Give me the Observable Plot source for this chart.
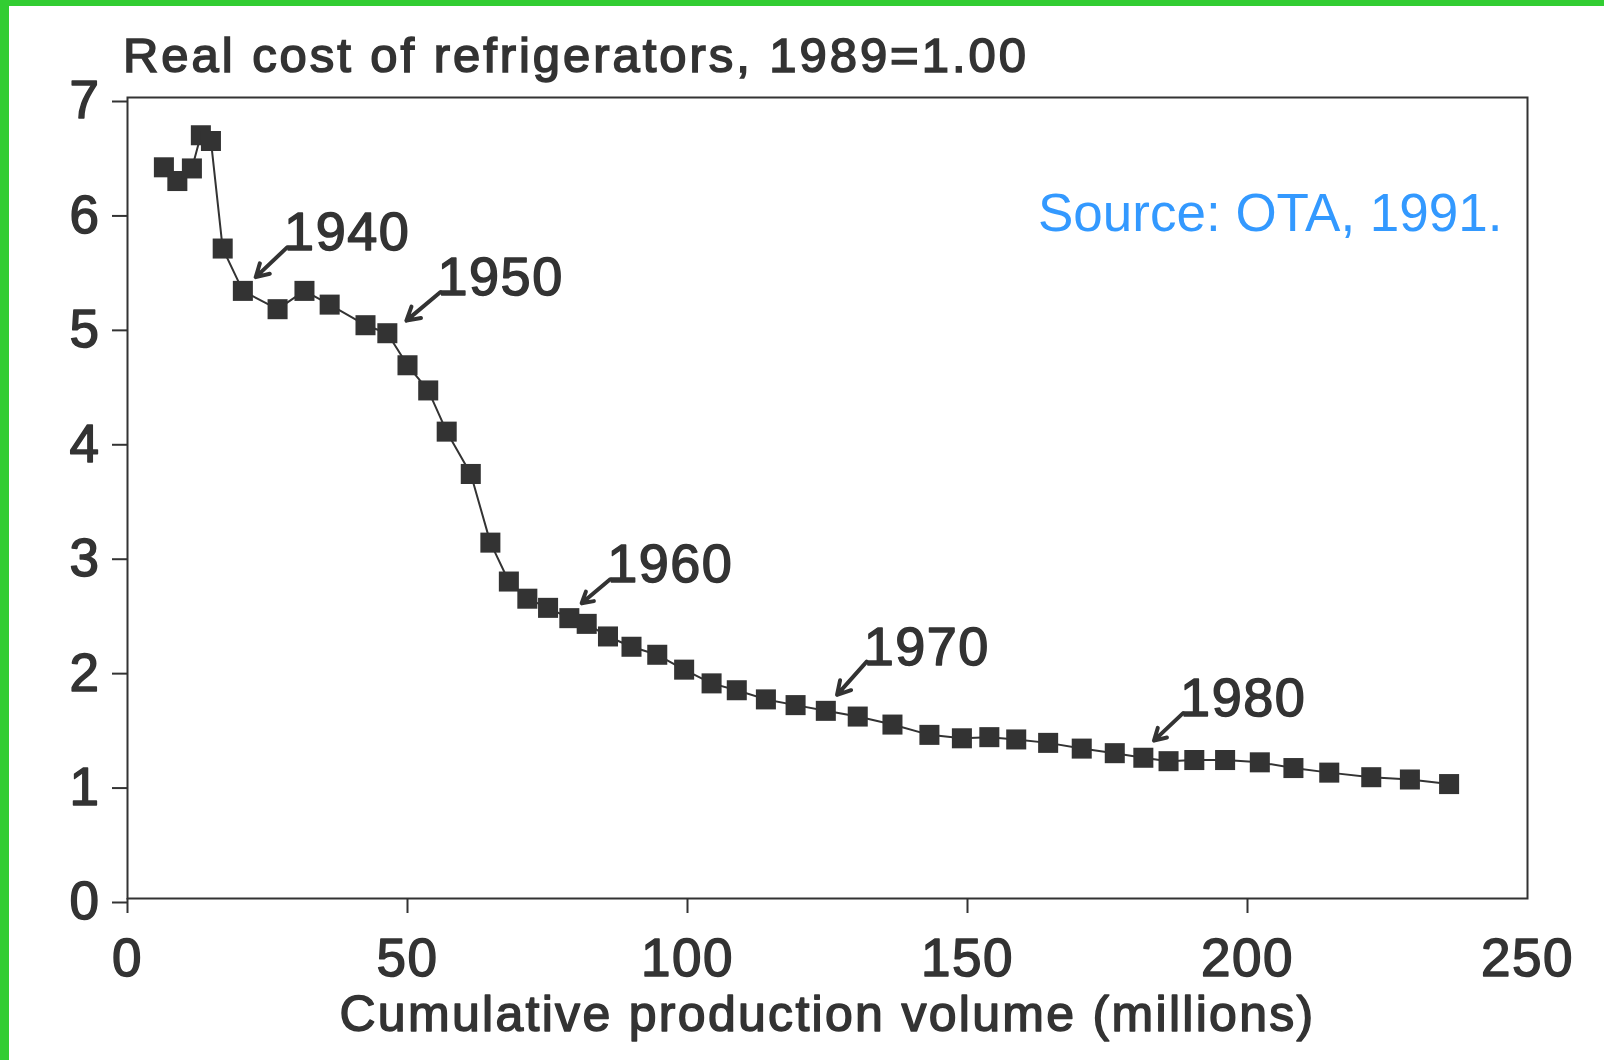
<!DOCTYPE html>
<html>
<head>
<meta charset="utf-8">
<script src="https://cdn.jsdelivr.net/npm/d3@7"></script>
<script src="https://cdn.jsdelivr.net/npm/@observablehq/plot@0.6"></script>
<style>
  html, body { margin: 0; padding: 0; background: #ffffff; }
  body { width: 1604px; height: 1060px; position: relative; overflow: hidden; }
  .bar-top { position: absolute; left: 0; top: 0; width: 1604px; height: 6px; background: #32cd32; z-index: 5; }
  .bar-left { position: absolute; left: 0; top: 0; width: 9px; height: 1060px; background: #32cd32; z-index: 5; }
  #title {
    position: absolute; left: 123px; top: 31px;
    font-family: "Liberation Sans", Arial, sans-serif; font-size: 49px; line-height: 49px;
    letter-spacing: 2.95px; color: #333333; -webkit-text-stroke: 1.6px #333333; white-space: nowrap;
  }
  #chart { position: absolute; left: 0; top: 84px; }
  #chart svg { font-family: "Liberation Sans", Arial, sans-serif; overflow: visible; }
</style>
</head>
<body>
<div class="bar-top"></div>
<div class="bar-left"></div>
<div id="title">Real cost of refrigerators, 1989=1.00</div>
<div id="chart"></div>
<script>
// Cumulative production volume (millions) and real cost (1989 = 1.00)
const volume = [6.5, 8.9, 11.5, 13.1, 14.9, 17.0, 20.6, 26.8, 31.6, 36.1, 42.5, 46.4, 50.0, 53.7, 57.0, 61.3, 64.8, 68.1, 71.4, 75.1,
                78.9, 82.0, 85.8, 90.0, 94.6, 99.4, 104.3, 108.8, 114.0, 119.3, 124.7, 130.4, 136.6, 143.2, 149.0, 153.9, 158.7, 164.4, 170.4, 176.3,
                181.4, 185.9, 190.5, 196.0, 202.2, 208.2, 214.6, 222.1, 229.0, 236.0];
const cost = [6.39, 6.27, 6.38, 6.67, 6.62, 5.68, 5.31, 5.15, 5.31, 5.19, 5.01, 4.94, 4.66, 4.44, 4.08, 3.71, 3.11, 2.77, 2.62, 2.54,
              2.45, 2.40, 2.29, 2.20, 2.13, 2.00, 1.88, 1.82, 1.74, 1.69, 1.64, 1.59, 1.52, 1.43, 1.40, 1.41, 1.39, 1.36, 1.31, 1.27,
              1.23, 1.20, 1.21, 1.21, 1.19, 1.14, 1.10, 1.06, 1.04, 1.00];

// Year annotations (arrow tail -> tip, in data units)
const yearLabels = ["1940", "1950", "1960", "1970", "1980"];
const arrowTailX = [28.5, 55.9, 86.2, 132.0, 188.5];
const arrowTailY = [5.69, 5.30, 2.79, 2.07, 1.62];
const arrowTipX = [22.9, 49.8, 81.1, 126.7, 183.3];
const arrowTipY = [5.43, 5.05, 2.58, 1.78, 1.38];

const xTickValues = [0, 50, 100, 150, 200, 250];
const xTickMarks = [0, 50, 100, 150, 200];
const yTickValues = [0, 1, 2, 3, 4, 5, 6, 7];

const xLabel = "Cumulative production volume (millions)";
const sourceNote = "Source: OTA, 1991.";

const points = volume.map((v, i) => ({volume: v, cost: cost[i]}));
const notes = yearLabels.map((label, i) => ({
  label, x1: arrowTailX[i], y1: arrowTailY[i], x2: arrowTipX[i], y2: arrowTipY[i]
}));

const ink = "#333333";

const chart = Plot.plot({
  width: 1604,
  height: 976,
  marginTop: 13,
  marginLeft: 127,
  marginRight: 77,
  marginBottom: 162,
  style: {background: "transparent", color: ink},
  x: {domain: [0, 250], label: null},
  y: {domain: [0, 7], label: null},
  marks: [
    Plot.frame({stroke: ink, strokeWidth: 2}),
    Plot.axisY({ticks: yTickValues, tickSize: 15, tickPadding: 12, stroke: ink, strokeWidth: 2,
                tickFormat: d3.format("d"), fontSize: 53, fill: ink, dy: 4, label: null}),
    Plot.axisX({ticks: xTickMarks, tickSize: 15, stroke: ink, strokeWidth: 2, tickFormat: () => "", label: null}),
    Plot.axisX({ticks: xTickValues, tickSize: 0, tickPadding: 40, tickFormat: d3.format("d"),
                fontSize: 53, fill: ink, label: null}),
    Plot.line(points, {x: "volume", y: "cost", stroke: ink, strokeWidth: 2}),
    Plot.dot(points, {x: "volume", y: "cost", symbol: "square", r: 11.3, fill: ink, stroke: "none"}),
    Plot.arrow(notes, {x1: "x1", y1: "y1", x2: "x2", y2: "y2", stroke: ink, strokeWidth: 4,
                       headLength: 16, headAngle: 60}),
    Plot.text(notes, {x: "x1", y: "y1", text: "label", textAnchor: "start", lineAnchor: "bottom",
                      dx: -3, dy: 3, fontSize: 54, fill: ink}),
    Plot.text([xLabel], {frameAnchor: "bottom", text: d => d, lineAnchor: "bottom", dy: 132,
                         fontSize: 50, fill: ink}),
    Plot.text([sourceNote], {frameAnchor: "top-right", text: d => d, textAnchor: "end", lineAnchor: "bottom",
                             dx: -25, dy: 133, fontSize: 53, fill: "#3399ff"})
  ]
});

// Scanned-print look: heavier glyphs and wider spacing for the dark text
const svgSel = d3.select(chart.tagName === "svg" ? chart : chart.querySelector("svg"));
svgSel.selectAll("text").each(function () {
  const t = this.textContent;
  const s = d3.select(this);
  if (t === sourceNote) return;
  s.style("stroke", ink).style("stroke-width", "1.5px").style("paint-order", "stroke")
   .style("stroke-linejoin", "round");
  if (t === xLabel) s.style("letter-spacing", "2.3px");
  else s.style("letter-spacing", "1.5px");
});

document.getElementById("chart").appendChild(chart);
</script>
</body>
</html>
